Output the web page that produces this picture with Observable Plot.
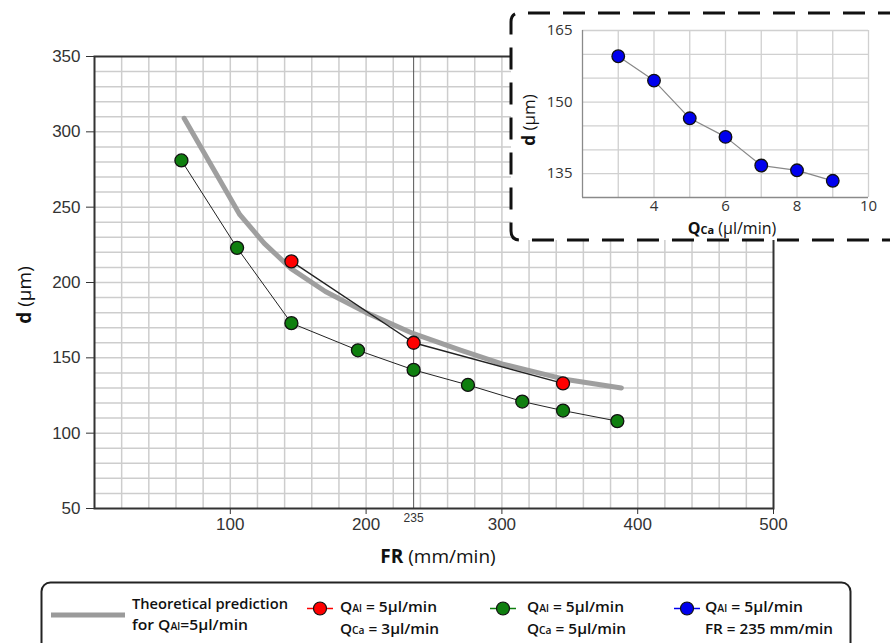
<!DOCTYPE html>
<html><head><meta charset="utf-8">
<script src="https://cdn.jsdelivr.net/npm/d3@7"></script>
<script src="https://cdn.jsdelivr.net/npm/@observablehq/plot@0.6"></script>
<style>
body{margin:0;background:#fff;width:890px;height:643px;overflow:hidden;position:relative;font-family:"Liberation Sans",Arial,sans-serif}
#main{position:absolute;left:0;top:0}
#frame{position:absolute;left:0;top:0}
#inset{position:absolute;left:511px;top:13px}
#legend{position:absolute;left:0;top:575px}
</style></head><body>
<div id="main"></div>
<svg id="frame" width="890" height="260"></svg>
<div id="inset"></div>
<svg id="legend" width="890" height="68"></svg>
<script>
// ---- data ----
const theoryFR = [66, 107, 125, 145, 170, 200, 235, 270, 300, 345, 388];
const theoryD  = [309, 245, 226, 209, 194, 180, 166, 155, 146, 136, 130];
const greenFR = [64, 105, 145, 194, 235, 275, 315, 345, 385];
const greenD  = [281, 223, 173, 155, 142, 132, 121, 115, 108];
const redFR = [145, 235, 345];
const redD  = [214, 160, 133];
const insetQ = [3, 4, 5, 6, 7, 8, 9];
const insetD = [159.6, 154.5, 146.6, 142.7, 136.7, 135.7, 133.5];
const xTicks = [100, 200, 300, 400, 500];
const yTicks = [50, 100, 150, 200, 250, 300, 350];
const insetXTicks = [4, 6, 8, 10];
const insetYTicks = [135, 150, 165];
const markedFR = 235;

const theory = theoryFR.map((x, i) => ({x, y: theoryD[i]}));
const green = greenFR.map((x, i) => ({x, y: greenD[i]}));
const red = redFR.map((x, i) => ({x, y: redD[i]}));
const blue = insetQ.map((x, i) => ({x, y: insetD[i]}));

const GREEN = "#0f7f0f", RED = "#ff0000", BLUE = "#0000ee";

// ---- main chart ----
const main = Plot.plot({
  width: 890, height: 575,
  marginLeft: 94, marginRight: 117, marginTop: 56, marginBottom: 67,
  style: {fontFamily: '"Liberation Sans", Arial, sans-serif', fontSize: "17px", color: "#333", background: "transparent"},
  x: {domain: [0, 500], ticks: xTicks, tickSize: 6, tickPadding: 3, label: null},
  y: {domain: [50, 350], ticks: yTicks, tickSize: 8, tickPadding: 6, label: null},
  marks: [
    Plot.ruleX(d3.range(20, 500, 20), {stroke: "#cdcdcd", strokeWidth: 1.5}),
    Plot.ruleY(d3.range(60, 350, 10), {stroke: "#cdcdcd", strokeWidth: 1.5}),
    Plot.ruleX([markedFR], {stroke: "#555", strokeWidth: 1}),
    Plot.frame({stroke: "#333", strokeWidth: 2}),
    Plot.text([markedFR], {x: d => d, y: 50, dy: 10, text: d => String(d), fontSize: 12, fill: "#333"}),
    Plot.line(theory, {x: "x", y: "y", stroke: "#9a9a9a", strokeWidth: 5, strokeOpacity: 0.95}),
    Plot.line(green, {x: "x", y: "y", stroke: "#222", strokeWidth: 1}),
    Plot.line(red, {x: "x", y: "y", stroke: "#222", strokeWidth: 1.4}),
    Plot.dot(green, {x: "x", y: "y", r: 6.5, fill: GREEN, stroke: "#111", strokeWidth: 1.3}),
    Plot.dot(red, {x: "x", y: "y", r: 6.5, fill: RED, stroke: "#111", strokeWidth: 1.3})
  ]
});
document.getElementById("main").appendChild(main);
const ms = d3.select(main);
const lbl = ms.append("text").attr("transform", "translate(31,295) rotate(-90)")
  .attr("text-anchor", "middle").style("font-family", '"Open Sans", sans-serif').style("font-size", "19px").attr("fill", "#111");
lbl.append("tspan").attr("font-weight", "bold").text("d");
lbl.append("tspan").text(" (μm)");
const xl = ms.append("text").attr("x", 438).attr("y", 563)
  .attr("text-anchor", "middle").style("font-family", '"Open Sans", sans-serif').style("font-size", "19px").attr("fill", "#111");
xl.append("tspan").attr("font-weight", "bold").text("FR");
xl.append("tspan").text(" (mm/min)");

// ---- inset dashed frame ----
const fr = d3.select("#frame");
fr.append("path")
  .attr("d", "M900,13 L520,13 Q511,13 511,22 L511,231 Q511,240 520,240 L900,240")
  .attr("fill", "#fff").attr("stroke", "#111").attr("stroke-width", 3)
  .attr("stroke-dasharray", "22 13");

// ---- inset chart ----
const inset = Plot.plot({
  width: 379, height: 227,
  marginLeft: 71, marginRight: 22, marginTop: 17, marginBottom: 43,
  style: {fontFamily: '"Open Sans", sans-serif', fontSize: "15px", color: "#333", background: "transparent"},
  x: {domain: [2, 10], ticks: insetXTicks, tickSize: 0, tickPadding: 3, label: null},
  y: {domain: [130, 165], ticks: insetYTicks, tickSize: 0, tickPadding: 10, label: null},
  marks: [
    Plot.ruleX(d3.range(3, 11, 1), {stroke: "#d0d0d0", strokeWidth: 1.3}),
    Plot.ruleY(d3.range(135, 166, 5), {stroke: "#d0d0d0", strokeWidth: 1.3}),
    Plot.ruleX([2], {stroke: "#8a8a8a", strokeWidth: 1.3}),
    Plot.ruleY([130], {stroke: "#8a8a8a", strokeWidth: 1.3}),
    Plot.line(blue, {x: "x", y: "y", stroke: "#888", strokeWidth: 1.2}),
    Plot.dot(blue, {x: "x", y: "y", r: 6.3, fill: BLUE, stroke: "#111", strokeWidth: 1.3})
  ]
});
document.getElementById("inset").appendChild(inset);
const is = d3.select(inset);
const il = is.append("text").attr("transform", "translate(24,107) rotate(-90)")
  .attr("text-anchor", "middle").style("font-family", '"Open Sans", sans-serif').style("font-size", "17px").attr("fill", "#111");
il.append("tspan").attr("font-weight", "bold").text("d");
il.append("tspan").text(" (μm)");
const ixl = is.append("text").attr("x", 221).attr("y", 221)
  .attr("text-anchor", "middle").style("font-family", '"Open Sans", sans-serif').style("font-size", "16px").attr("fill", "#111");
ixl.append("tspan").attr("font-weight", "bold").text("Q");
ixl.append("tspan").attr("font-weight", "bold").style("font-size", "11px").text("Ca");
ixl.append("tspan").text(" (μl/min)");

// ---- legend ----
const lg = d3.select("#legend");
lg.append("rect").attr("x", 41.5).attr("y", 7.5).attr("width", 809).attr("height", 100).attr("rx", 9)
  .attr("fill", "none").attr("stroke", "#222").attr("stroke-width", 2);
lg.append("line").attr("x1", 51).attr("x2", 125).attr("y1", 40).attr("y2", 40)
  .attr("stroke", "#9a9a9a").attr("stroke-width", 5);
function ltext(x, y, parts, len) {
  const t = lg.append("text").attr("x", x).attr("y", y)
    .style("font-family", '"Open Sans", sans-serif').style("font-size", "15px").attr("font-weight", 600)
    .attr("fill", "#111").attr("textLength", len).attr("lengthAdjust", "spacingAndGlyphs");
  parts.forEach(p => { const s = t.append("tspan").text(p[0]); if (p[1]) s.style("font-size", "10px"); });
}
ltext(132, 34, [["Theoretical prediction"]], 156);
ltext(132, 55, [["for Q"], ["Al", 1], ["=5μl/min"]], 116);
const items = [
  {cx: 320, color: RED, tx: 340, l1: [["Q"], ["Al", 1], [" = 5μl/min"]], w1: 97, l2: [["Q"], ["Ca", 1], [" = 3μl/min"]], w2: 99},
  {cx: 503, color: GREEN, tx: 527, l1: [["Q"], ["Al", 1], [" = 5μl/min"]], w1: 97, l2: [["Q"], ["Ca", 1], [" = 5μl/min"]], w2: 99},
  {cx: 687, color: BLUE, tx: 705, l1: [["Q"], ["Al", 1], [" = 5μl/min"]], w1: 98, l2: [["FR = 235 mm/min"]], w2: 128}
];
items.forEach(it => {
  lg.append("line").attr("x1", it.cx - 13).attr("x2", it.cx + 13).attr("y1", 33.5).attr("y2", 33.5)
    .attr("stroke", it.color).attr("stroke-width", 1.5);
  lg.append("circle").attr("cx", it.cx).attr("cy", 33.5).attr("r", 6.5)
    .attr("fill", it.color).attr("stroke", "#111").attr("stroke-width", 1.2);
  ltext(it.tx, 37, it.l1, it.w1);
  ltext(it.tx, 59, it.l2, it.w2);
});
</script>
</body></html>
